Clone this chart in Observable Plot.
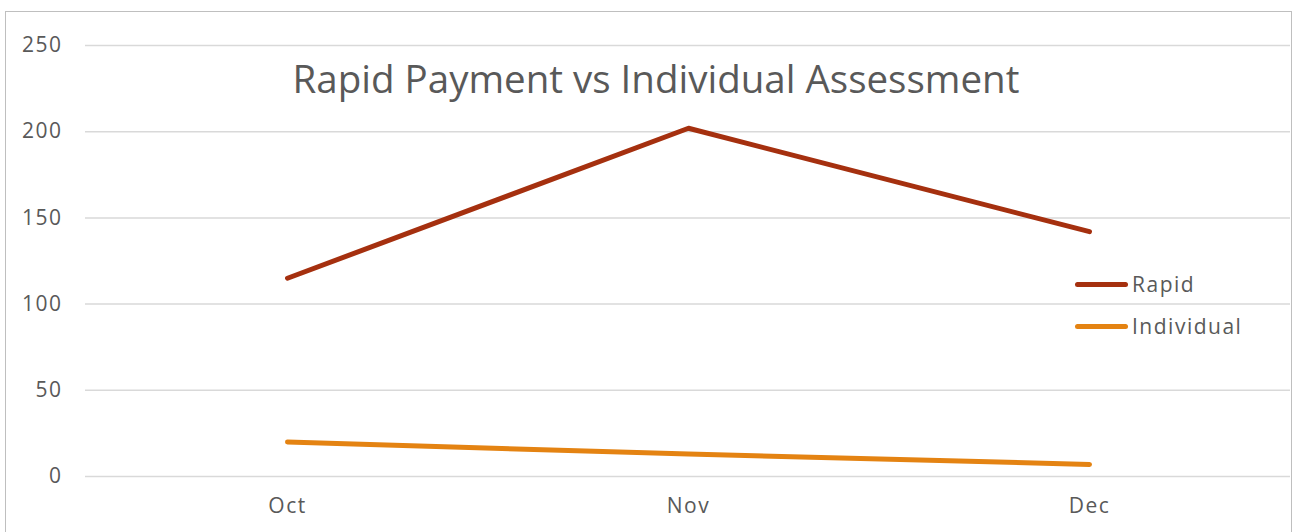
<!DOCTYPE html>
<html>
<head>
<meta charset="utf-8">
<script src="https://cdn.jsdelivr.net/npm/d3@7"></script>
<script src="https://cdn.jsdelivr.net/npm/@observablehq/plot@0.6"></script>
<style>
  html, body { margin: 0; padding: 0; background: #fff; }
  #wrap { position: relative; width: 1295px; height: 532px; overflow: hidden; font-family: "Open Sans", sans-serif; }
  #border { position: absolute; left: 5px; top: 11px; width: 1287px; height: 540px; border: 1px solid #bfbfbf; box-sizing: border-box; }
  #chart { position: absolute; left: 0; top: 0; }
  #chart svg g[aria-label="y-axis tick label"] text, #chart svg g[aria-label="x-axis tick label"] text { letter-spacing: 1.5px; }
  .leg { position: absolute; left: 1075px; display: flex; align-items: center; font-size: 21px; letter-spacing: 1.5px; color: #595959; }
  .leg span.sw { display: inline-block; width: 53px; height: 5px; border-radius: 3px; margin-right: 4px; }
</style>
</head>
<body>
<div id="wrap">
  <div id="border"></div>
  <div id="chart"></div>
  <div id="legend"></div>
</div>
<script>
const months = ["Oct", "Nov", "Dec"];
const rapid = [115, 202, 142];
const individual = [20, 13, 7];
const yTicks = [0, 50, 100, 150, 200, 250];
const seriesNames = ["Rapid", "Individual"];
const seriesColors = ["#A5300F", "#E48312"];
const title = "Rapid Payment vs Individual Assessment";

const data = [];
months.forEach((m, i) => {
  data.push({month: m, value: rapid[i], series: "Rapid"});
  data.push({month: m, value: individual[i], series: "Individual"});
});

const chart = Plot.plot({
  width: 1295,
  height: 532,
  marginLeft: 85,
  marginRight: 5,
  marginTop: 45,
  marginBottom: 56,
  style: {fontFamily: "Open Sans, sans-serif", fontSize: "21px", color: "#595959", background: "transparent"},
  x: {domain: months, type: "point", padding: 0.5, label: null, tickSize: 0, tickPadding: 22},
  y: {domain: [0, 250], ticks: yTicks, label: null, tickSize: 0, tickPadding: 23},
  color: {domain: seriesNames, range: seriesColors},
  marks: [
    Plot.ruleY(yTicks, {stroke: "#d9d9d9", strokeWidth: 1.5}),
    Plot.axisY({ticks: yTicks, tickSize: 0, tickPadding: 23, label: null, fontSize: 21, fill: "#595959"}),
    Plot.axisX({tickSize: 0, tickPadding: 22, label: null, fontSize: 21, fill: "#595959"}),
    Plot.line(data, {x: "month", y: "value", z: "series", stroke: "series", strokeWidth: 5, strokeLinecap: "round", strokeLinejoin: "round"}),
    Plot.text([title], {frameAnchor: "top", dx: -32, dy: 35, lineAnchor: "middle", fontSize: 38.5, fill: "#595959", text: d => d})
  ]
});
document.getElementById("chart").appendChild(chart);

const legend = document.getElementById("legend");
const legTops = [284, 326];
seriesNames.forEach((name, i) => {
  const d = document.createElement("div");
  d.className = "leg";
  d.style.top = (legTops[i] - 14) + "px";
  d.style.height = "28px";
  d.innerHTML = `<span class="sw" style="background:${seriesColors[i]}"></span>${name}`;
  legend.appendChild(d);
});
</script>
</body>
</html>
